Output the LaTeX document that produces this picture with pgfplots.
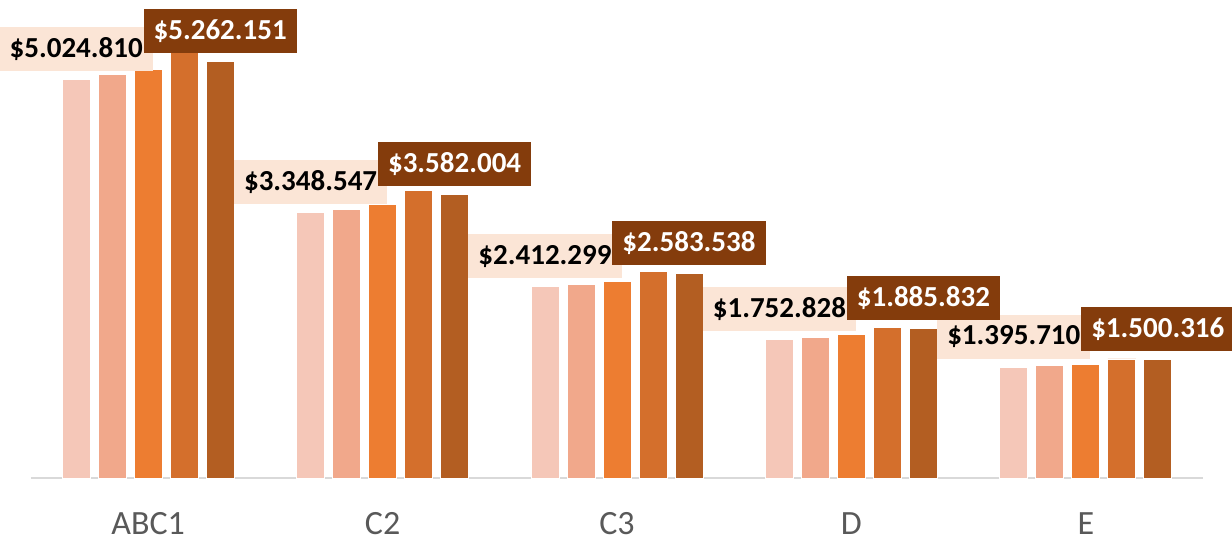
\documentclass[border=0pt]{standalone}
\usepackage{pgfplots}
\pgfplotsset{compat=1.18}
\usepackage{fontspec}
\setmainfont{Carlito}

\definecolor{shadeA}{RGB}{245,199,184}
\definecolor{shadeB}{RGB}{241,168,139}
\definecolor{shadeC}{RGB}{237,125,49}
\definecolor{shadeD}{RGB}{212,111,44}
\definecolor{shadeE}{RGB}{179,94,34}
\definecolor{labLight}{RGB}{251,229,214}
\definecolor{labDark}{RGB}{132,60,12}
\definecolor{tickGray}{RGB}{89,89,89}
\definecolor{axisGray}{RGB}{217,217,217}

\tikzset{
  lablight/.style = {anchor=south, yshift=4pt, fill=labLight, text=black,
    font=\fontsize{14.5pt}{16pt}\selectfont\bfseries,
    inner xsep=5pt, inner ysep=0pt, minimum height=22pt},
  labdark/.style  = {anchor=south, yshift=4pt, fill=labDark, text=white,
    font=\fontsize{14.5pt}{16pt}\selectfont\bfseries,
    inner xsep=5pt, inner ysep=0pt, minimum height=22pt},
}

\begin{document}
\begin{tikzpicture}
\path[use as bounding box] (-15.5pt,-30.5pt) rectangle (600.5pt,239pt);
\begin{axis}[
    scale only axis,
    width=586pt, height=237.7pt,
    ybar=4pt, bar width=14pt,
    xmin=-0.5, xmax=4.5,
    ymin=0, ymax=6000000,
    enlarge x limits=false,
    axis y line=none,
    axis x line*=bottom,
    x axis line style={draw=axisGray, line width=1pt},
    xtick={0,1,2,3,4},
    xticklabels={ABC1,C2,C3,D,E},
    major tick length=0pt,
    xticklabel style={anchor=base, yshift=-28.5pt, text=tickGray, inner sep=0pt,
      font=\fontsize{17pt}{20pt}\selectfont},
    /pgf/number format/.cd, fixed, precision=0, 1000 sep={.}, assume math mode=true,
    /pgfplots/.cd,
    every axis plot/.append style={draw=white, line width=0.4pt},
    clip=false,
]
\addplot[fill=shadeA, nodes near coords={\$\pgfmathprintnumber{\pgfplotspointmeta}},
  every node near coord/.append style={lablight}] coordinates {
  (0,5024810) (1,3348547) (2,2412299) (3,1752828) (4,1395710)
};
\addplot[fill=shadeB] coordinates {
  (0,5088000) (1,3386000) (2,2446000) (3,1777000) (4,1421000)
};
\addplot[fill=shadeC] coordinates {
  (0,5151000) (1,3453000) (2,2484000) (3,1806000) (4,1429000)
};
\addplot[fill=shadeD] coordinates {
  (0,5437000) (1,3630000) (2,2610000) (3,1895000) (4,1503000)
};
\addplot[fill=shadeE, nodes near coords={\$\pgfmathprintnumber{\pgfplotspointmeta}},
  every node near coord/.append style={labdark}] coordinates {
  (0,5262151) (1,3582004) (2,2583538) (3,1885832) (4,1500316)
};
\end{axis}
\end{tikzpicture}
\end{document}
